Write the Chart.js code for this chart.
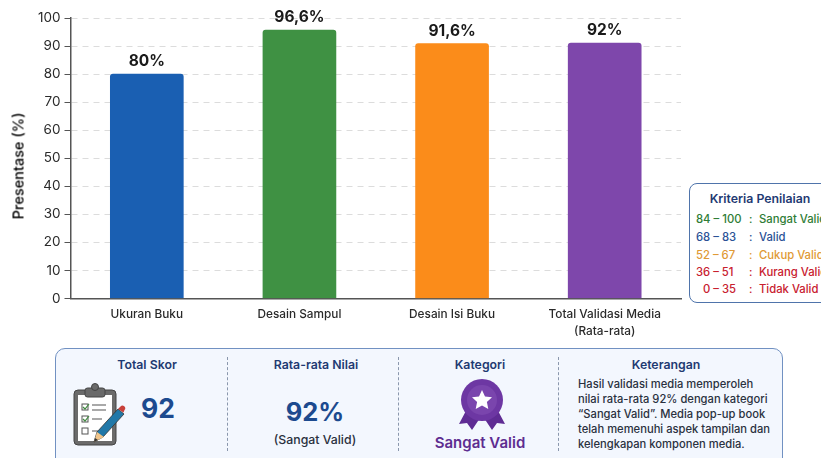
<!DOCTYPE html>
<html>
<head>
<meta charset="utf-8">
<script src="https://cdn.jsdelivr.net/npm/chart.js@4"></script>
<style>
  html, body { margin: 0; padding: 0; width: 821px; height: 458px; overflow: hidden; background: #fff; font-family: Inter, sans-serif; }
  #chart-wrap { position: absolute; left: 0; top: 0; width: 690px; height: 345px; }
  .abs { position: absolute; white-space: nowrap; }
  .center { transform: translate(-50%, -50%); }
  .middle { transform: translateY(-50%); }

  /* Kriteria box */
  #kriteria { position: absolute; left: 689px; top: 183px; width: 160px; height: 120px; border: 1.5px solid #4f74ab; border-radius: 8px; background: #fff; box-sizing: border-box; }
  .k-row { font-size: 11.3px; font-weight: 500; }

  /* Bottom panel */
  #panel { position: absolute; left: 55px; top: 348px; width: 728px; height: 125px; border: 1.5px solid #7191c2; border-radius: 10px; background: #f3f7fe; box-sizing: border-box; }
  .divider { position: absolute; top: 357px; height: 94px; border-left: 1px dashed #8a97ad; }
  .p-title { font-size: 12.3px; font-weight: 600; color: #1f3a72; }
  .p-big { font-weight: 700; color: #1c4a8f; }
  .p-text { font-size: 11.2px; color: #2a3140; font-weight: 450; }
</style>
</head>
<body>
<div id="chart-wrap"><canvas id="validasiChart" width="690" height="345"></canvas></div>

<!-- judul sumbu y, posisinya sedikit di bawah tengah sumbu -->
<div class="abs center" style="left:18px;top:166px;font-size:14.5px;font-weight:500;color:#000;transform:translate(-50%,-50%) rotate(-90deg)">Presentase (%)</div>

<div id="kriteria"></div>
<div id="panel"></div>
<div class="divider" style="left:227px"></div>
<div class="divider" style="left:398px"></div>
<div class="divider" style="left:558px"></div>

<div class="abs center p-title" style="left:147px;top:364px">Total Skor</div>
<div class="abs center p-title" style="left:316px;top:364px">Rata-rata Nilai</div>
<div class="abs center p-title" style="left:480px;top:364px">Kategori</div>
<div class="abs center p-title" style="left:666px;top:364px">Keterangan</div>

<div class="abs center p-big" style="left:158px;top:408px;font-size:26.5px">92</div>
<div class="abs center p-big" style="left:315px;top:411px;font-size:25.5px">92%</div>
<div class="abs center" style="left:315px;top:439px;font-size:12.3px;font-weight:500;color:#2a3140">(Sangat Valid)</div>
<div class="abs center" style="left:480px;top:442px;font-size:15px;font-weight:600;color:#5e2d91">Sangat Valid</div>

<!-- clipboard icon -->
<svg class="abs" style="left:72px;top:381px" width="54" height="66" viewBox="0 0 54 66">
  <rect x="2" y="9" width="42" height="55" rx="4" fill="#6b6b6b" stroke="#444" stroke-width="1"/>
  <rect x="6" y="14" width="34" height="46" fill="#fff"/>
  <rect x="13" y="7" width="20" height="9" rx="2.5" fill="#6a6a6a" stroke="#444"/>
  <circle cx="23" cy="6" r="3.5" fill="#6a6a6a" stroke="#444"/>
  <g fill="none" stroke="#555" stroke-width="1">
    <rect x="10" y="23" width="6" height="6"/><rect x="10" y="35" width="6" height="6"/><rect x="10" y="47" width="6" height="6"/>
  </g>
  <path d="M11 26l2 2 4-5M11 38l2 2 4-5" fill="none" stroke="#3f8a3f" stroke-width="1.2"/>
  <path d="M20 24h14M20 29h14M20 38h10M20 50h6" stroke="#555" stroke-width="1.1"/>
  <path d="M22 61l3-10 21-23 6 5-21 23z" fill="#2178a8" stroke="#333" stroke-width="0.8"/>
  <path d="M22 61l3-10 7 5z" fill="#f0c48a"/>
  <path d="M22 61l1-4 3 2z" fill="#333"/>
  <path d="M46 28l2.5-2.5a2.5 2.5 0 0 1 4 3.5l-1 2.5z" fill="#c8403a"/>
</svg>

<!-- medal icon -->
<svg class="abs" style="left:459px;top:379px" width="46" height="52" viewBox="0 0 46 52">
  <path d="M9 28L0 45l8-1 5 7 10-15zM37 28l9 17-8-1-5 7-10-15z" fill="#5f2c94"/>
  <circle cx="23" cy="21" r="21" fill="#6d37a3"/>
  <circle cx="23" cy="21" r="15" fill="#7a45ad"/>
  <path d="M23 11l3 6.4 7 .9-5.1 4.8 1.4 6.9-6.3-3.5-6.3 3.5 1.4-6.9-5.1-4.8 7-.9z" fill="#fff"/>
</svg>

<div id="keterangan"></div>

<script>
// Data grafik
const categories = [["Ukuran Buku"], ["Desain Sampul"], ["Desain Isi Buku"], ["Total Validasi Media", "(Rata-rata)"]];
const barHeights = [80, 95.7, 90.9, 91.1];
const valueLabels = ["80%", "96,6%", "91,6%", "92%"];
const barColors = ["#1a5fb2", "#3f9143", "#fb8c1a", "#7e47ab"];
const yTicks = [0, 10, 20, 30, 40, 50, 60, 70, 80, 90, 100];

// Kriteria penilaian
const criteriaRanges = ["84 – 100", "68 – 83", "52 – 67", "36 – 51", "0 – 35"];
const criteriaNames = ["Sangat Valid", "Valid", "Cukup Valid", "Kurang Valid", "Tidak Valid"];
const criteriaColors = ["#2f7d36", "#2b5296", "#e09a35", "#c8202f", "#c8202f"];

const keteranganLines = [
  "Hasil validasi media memperoleh",
  "nilai rata-rata 92% dengan kategori",
  "“Sangat Valid”. Media pop-up book",
  "telah memenuhi aspek tampilan dan",
  "kelengkapan komponen media.",
];

// Kotak kriteria
const rowTops = [219, 237, 255, 272, 289];
const rangeLefts = [696, 696, 696, 696, 703];
let html = '<div class="abs center" style="left:760px;top:198px;font-size:12.3px;font-weight:600;color:#1f3a72">Kriteria Penilaian</div>';
criteriaRanges.forEach((r, i) => {
  const style = "top:" + rowTops[i] + "px;color:" + criteriaColors[i];
  html += '<div class="abs middle k-row" style="left:' + rangeLefts[i] + 'px;' + style + '">' + r + "</div>";
  html += '<div class="abs middle k-row" style="left:749px;' + style + '">:</div>';
  html += '<div class="abs middle k-row" style="left:759px;' + style + '">' + criteriaNames[i] + "</div>";
});
document.getElementById("kriteria").insertAdjacentHTML("afterend", html);

// Teks keterangan
const ketTops = [384, 399, 414, 429, 444];
document.getElementById("keterangan").innerHTML = keteranganLines
  .map((t, i) => '<div class="abs middle p-text" style="left:578px;top:' + ketTops[i] + 'px">' + t + "</div>")
  .join("");

// Label nilai di atas batang
const valueLabelPlugin = {
  id: "valueLabel",
  afterDatasetsDraw(chart) {
    const ctx = chart.ctx;
    const meta = chart.getDatasetMeta(0);
    ctx.save();
    ctx.font = '700 15.5px Inter, sans-serif';
    ctx.fillStyle = "#1a1a1a";
    ctx.textAlign = "center";
    ctx.textBaseline = "middle";
    meta.data.forEach((bar, i) => {
      ctx.fillText(valueLabels[i], bar.x, bar.y - 12.5);
    });
    ctx.restore();
  },
};

new Chart(document.getElementById("validasiChart"), {
  type: "bar",
  data: {
    labels: categories,
    datasets: [
      {
        data: barHeights,
        backgroundColor: barColors,
        barThickness: 73,
        borderRadius: { topLeft: 3, topRight: 3, bottomLeft: 0, bottomRight: 0 },
        borderSkipped: false,
      },
    ],
  },
  options: {
    responsive: false,
    animation: false,
    layout: { padding: { top: 18, right: 9, bottom: 0, left: 0 } },
    plugins: {
      legend: { display: false },
      tooltip: { enabled: false },
    },
    scales: {
      y: {
        min: 0,
        max: 100,
        afterBuildTicks(scale) {
          scale.ticks = yTicks.map((v) => ({ value: v }));
        },
        afterFit(scale) {
          scale.width = 70.5;
        },
        ticks: {
          color: "#2a2a2a",
          font: { family: "Inter, sans-serif", size: 13.5 },
          padding: 4,
        },
        grid: {
          color: "#dcdcdc",
          borderDash: [6, 5],
          tickColor: "#555",
          tickLength: 6,
          tickBorderDash: [],
        },
        border: { color: "#555", width: 1.5, dash: [6, 5] },
      },
      x: {
        afterFit(scale) {
          scale.height = 46.5;
        },
        ticks: {
          color: "#2a2a2a",
          font: { family: "Inter, sans-serif", size: 11.8, weight: "500", lineHeight: 1.4 },
          padding: 0,
          maxRotation: 0,
        },
        grid: { display: false },
        border: { color: "#555", width: 1.5 },
      },
    },
  },
  plugins: [valueLabelPlugin],
});
</script>
</body>
</html>
